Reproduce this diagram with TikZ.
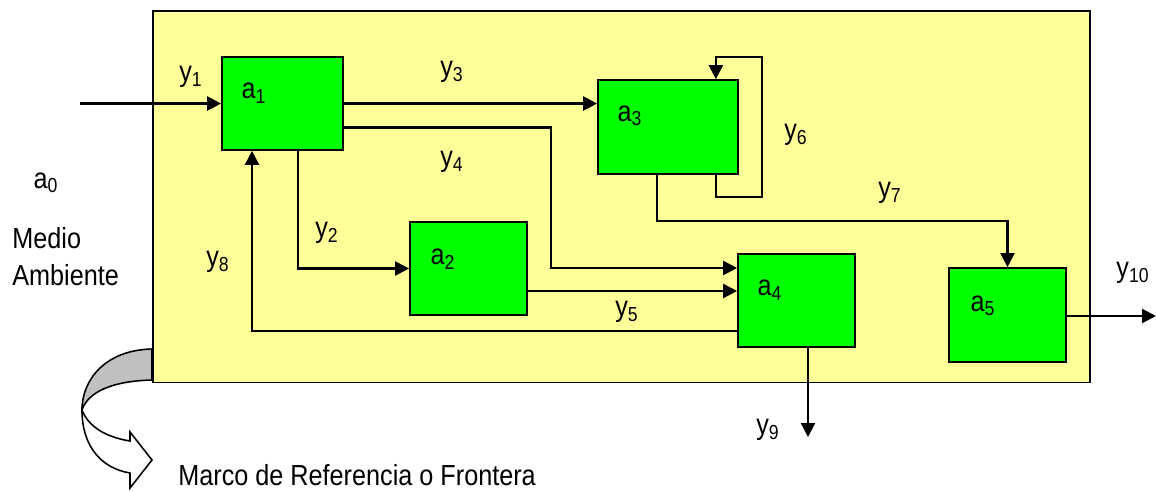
\documentclass[tikz,border=0pt]{standalone}
\usepackage{fontspec}
\setmainfont[FakeStretch=0.87]{Liberation Sans}
\usepackage{tikz}
\usetikzlibrary{calc,arrows.meta}
\usepackage{xcolor}
\definecolor{marco}{HTML}{FFFF99}
\definecolor{bloque}{HTML}{00FF00}
\definecolor{pliegue}{HTML}{C0C0C0}
\newcommand{\vsub}[2]{#1\textsubscript{#2}}
\tikzset{
  frame/.style={
    draw,
    rectangle,
    fill=marco,
    line width=1.1pt,
  },
  block/.style={
    draw,
    rectangle,
    fill=bloque,
    inner sep=0pt,
    line width=1pt,
  },
  flow/.style={line width=1.3pt, -{Triangle[length=2.8mm,width=2.8mm]}},
  lbl/.style={font=\fontsize{16.5}{21}\selectfont, inner sep=0pt},
}
\begin{document}
\begin{tikzpicture}[x=0.02cm, y=-0.02cm]
  \useasboundingbox (0,0) rectangle (1156,491);
  \draw[line width=0.9pt, fill=white] (82,410) .. controls (88,426) and (105,437) .. (130,441)
    -- (130,432) -- (152,460) -- (130,488) -- (130,473)
    .. controls (100,468) and (82,445) .. (82,410) -- cycle;
  \draw[line width=0.9pt, fill=pliegue] (152,349) .. controls (105,350) and (82,380) .. (82,410)
    .. controls (88,392) and (112,381) .. (152,380) -- cycle;
  \node[frame, minimum width=18.76cm, minimum height=7.44cm] (marco) at (621.5,196.5) {};
  \node[block, minimum width=2.42cm, minimum height=1.86cm] (a1) at (282.5,103.5) {};
  \node[block, minimum width=2.8cm, minimum height=1.88cm] (a3) at (668,127) {};
  \node[block, minimum width=2.34cm, minimum height=1.86cm] (a2) at (468.5,268.5) {};
  \node[block, minimum width=2.34cm, minimum height=1.86cm] (a4) at (796.5,300.5) {};
  \node[block, minimum width=2.34cm, minimum height=1.88cm] (a5) at (1007.5,315) {};
  \node[lbl] (t1) at (254,93) {\vsub{a}{1}};
  \node[lbl] (t3) at (630,116) {\vsub{a}{3}};
  \node[lbl] (t2) at (443,259) {\vsub{a}{2}};
  \node[lbl] (t4) at (770,290) {\vsub{a}{4}};
  \node[lbl] (t5) at (983,306) {\vsub{a}{5}};
  \coordinate (entrada) at (80,103.5);
  \coordinate (k4) at (551,268);
  \coordinate (y9end) at (808,437);
  \coordinate (y10end) at (1156,316);
  \draw[flow] (entrada) -- (a1.west);
  \draw[flow] (a1.east) -- (a1.east -| a3.west);
  \draw[flow] ($(a1.east)+(0,24)$) -| (k4) -- (k4 -| a4.west);
  \draw[flow] ($(a1.south)+(15.5,0)$) |- (a2.west);
  \draw[flow] ($(a2.east)+(0,22.5)$) coordinate (p5) -- (p5 -| a4.west);
  \draw[flow] ($(a4.west)+(0,30.5)$) -| ($(a1.south)+(-30.5,0)$);
  \draw[flow] ($(a3.south east)+(-23,0)$) -- ++(0,22) -| (762,57) -| ($(a3.north east)+(-23,0)$);
  \draw[flow] ($(a3.south)+(-11,0)$) -- ++(0,46) -| (a5.north);
  \draw[flow] (a4.south -| y9end) -- (y9end);
  \draw[flow] (a5.east |- y10end) -- (y10end);
  \node[lbl] (ly1) at (191,77) {\vsub{y}{1}};
  \node[lbl] (ly3) at (452,72) {\vsub{y}{3}};
  \node[lbl] (ly4) at (452,162) {\vsub{y}{4}};
  \node[lbl] (ly6) at (796,135) {\vsub{y}{6}};
  \node[lbl] (ly7) at (890,193) {\vsub{y}{7}};
  \node[lbl] (ly2) at (327,233) {\vsub{y}{2}};
  \node[lbl] (ly8) at (218,262) {\vsub{y}{8}};
  \node[lbl] (ly5) at (627,312) {\vsub{y}{5}};
  \node[lbl] (ly9) at (768,430) {\vsub{y}{9}};
  \node[lbl] (ly10) at (1133,273) {\vsub{y}{10}};
  \node[lbl] (a0) at (46,183) {\vsub{a}{0}};
  \node[lbl, anchor=west, align=left] (medio) at (12,257) {Medio\\Ambiente};
  \node[lbl, anchor=base west] (pie) at (178,485) {Marco de Referencia o Frontera};
\end{tikzpicture}
\end{document}
